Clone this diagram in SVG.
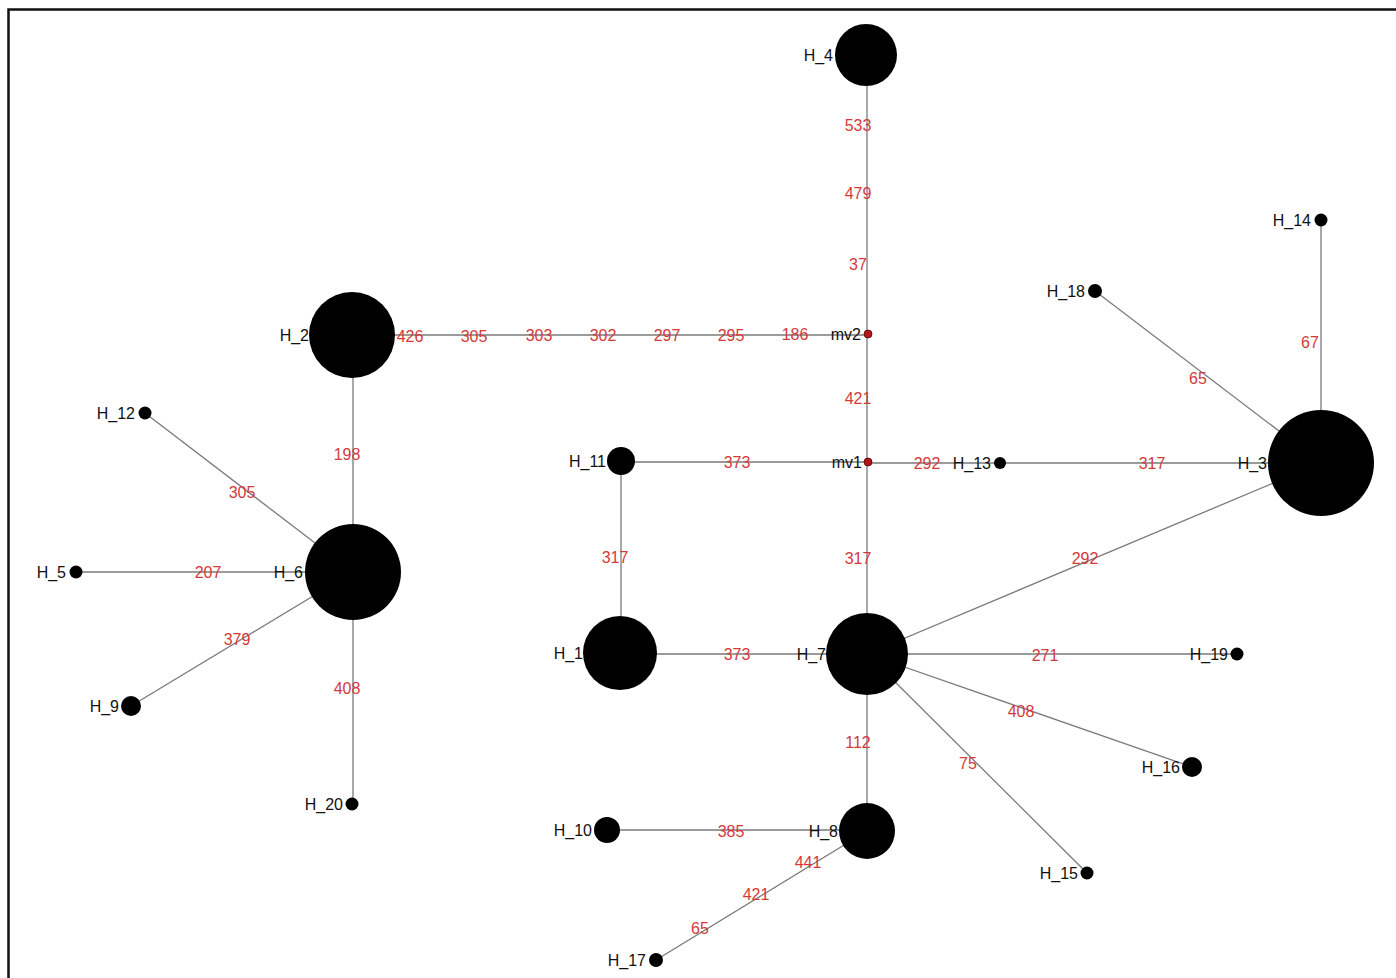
<svg xmlns="http://www.w3.org/2000/svg" width="1396" height="978" viewBox="0 0 1396 978">
<style>
.e{stroke:#7a7a7a;stroke-width:1.3;fill:none}
.n{fill:#000}
.mv{fill:#b0161a;stroke:#5a0000;stroke-width:0.8}
.l{font-family:"Liberation Sans",Arial,sans-serif;font-size:16px;fill:#111;text-anchor:end;dominant-baseline:central}
.w{font-family:"Liberation Sans",Arial,sans-serif;font-size:16px;fill:#d43a3a;text-anchor:middle;dominant-baseline:central}
</style>
<rect x="0" y="0" width="1396" height="978" fill="#fff"/>
<path d="M8.5,978 V9.5 H1396" fill="none" stroke="#111" stroke-width="2.5"/>
<g id="connectors">
<line class="e" x1="867" y1="55" x2="867" y2="334"/>
<line class="e" x1="352" y1="335" x2="867" y2="335"/>
<line class="e" x1="867" y1="334" x2="867" y2="462"/>
<line class="e" x1="621" y1="462" x2="867" y2="462"/>
<line class="e" x1="867" y1="463" x2="1000" y2="463"/>
<line class="e" x1="1000" y1="463" x2="1321" y2="463"/>
<line class="e" x1="867" y1="462" x2="867" y2="654"/>
<line class="e" x1="621" y1="461" x2="621" y2="653"/>
<line class="e" x1="620" y1="654" x2="867" y2="654"/>
<line class="e" x1="867" y1="654" x2="1321" y2="463"/>
<line class="e" x1="867" y1="654" x2="1237" y2="654"/>
<line class="e" x1="867" y1="654" x2="1192" y2="767"/>
<line class="e" x1="867" y1="654" x2="1087" y2="873"/>
<line class="e" x1="867" y1="654" x2="867" y2="831"/>
<line class="e" x1="867" y1="830" x2="607" y2="830"/>
<line class="e" x1="867" y1="831" x2="656" y2="960"/>
<line class="e" x1="1321" y1="463" x2="1321" y2="220"/>
<line class="e" x1="1321" y1="463" x2="1095" y2="291"/>
<line class="e" x1="353" y1="335" x2="353" y2="572"/>
<line class="e" x1="353" y1="572" x2="145" y2="413"/>
<line class="e" x1="353" y1="572" x2="76" y2="572"/>
<line class="e" x1="353" y1="572" x2="131" y2="706"/>
<line class="e" x1="353" y1="572" x2="353" y2="804"/>
<g id="edge-labels">
<text class="w" x="858" y="125">533</text>
<text class="w" x="858" y="193">479</text>
<text class="w" x="858" y="264">37</text>
<text class="w" x="410" y="336">426</text>
<text class="w" x="474" y="336">305</text>
<text class="w" x="539" y="335">303</text>
<text class="w" x="603" y="335">302</text>
<text class="w" x="667" y="335">297</text>
<text class="w" x="731" y="335">295</text>
<text class="w" x="795" y="334">186</text>
<text class="w" x="858" y="398">421</text>
<text class="w" x="737" y="462">373</text>
<text class="w" x="927" y="463">292</text>
<text class="w" x="1152" y="463">317</text>
<text class="w" x="858" y="558">317</text>
<text class="w" x="615" y="557">317</text>
<text class="w" x="737" y="654">373</text>
<text class="w" x="1085" y="558">292</text>
<text class="w" x="1045" y="655">271</text>
<text class="w" x="1021" y="711">408</text>
<text class="w" x="968" y="763">75</text>
<text class="w" x="858" y="742">112</text>
<text class="w" x="731" y="831">385</text>
<text class="w" x="808" y="862">441</text>
<text class="w" x="756" y="894">421</text>
<text class="w" x="700" y="928">65</text>
<text class="w" x="1310" y="342">67</text>
<text class="w" x="1198" y="378">65</text>
<text class="w" x="347" y="454">198</text>
<text class="w" x="242" y="492">305</text>
<text class="w" x="208" y="572">207</text>
<text class="w" x="237" y="639">379</text>
<text class="w" x="347" y="688">408</text>
</g>
</g>
<g id="H_4"><circle class="n" cx="866" cy="55" r="31"/><text class="l" x="833" y="55">H_4</text></g>
<g id="mv2"><circle class="mv" cx="868" cy="334" r="4"/><text class="l" x="861" y="334">mv2</text></g>
<g id="mv1"><circle class="mv" cx="868" cy="462" r="4"/><text class="l" x="862" y="462">mv1</text></g>
<g id="H_2"><circle class="n" cx="352" cy="335" r="43"/><text class="l" x="309" y="335">H_2</text></g>
<g id="H_6"><circle class="n" cx="353" cy="572" r="48"/><text class="l" x="303" y="572">H_6</text></g>
<g id="H_11"><circle class="n" cx="621" cy="461" r="14"/><text class="l" x="606" y="461">H_11</text></g>
<g id="H_1"><circle class="n" cx="620" cy="653" r="37"/><text class="l" x="583" y="653">H_1</text></g>
<g id="H_7"><circle class="n" cx="867" cy="654" r="41"/><text class="l" x="826" y="654">H_7</text></g>
<g id="H_13"><circle class="n" cx="1000" cy="463" r="6"/><text class="l" x="991" y="463">H_13</text></g>
<g id="H_3"><circle class="n" cx="1321" cy="463" r="53"/><text class="l" x="1267" y="463">H_3</text></g>
<g id="H_14"><circle class="n" cx="1321" cy="220" r="6.5"/><text class="l" x="1311" y="220">H_14</text></g>
<g id="H_18"><circle class="n" cx="1095" cy="291" r="7"/><text class="l" x="1085" y="291">H_18</text></g>
<g id="H_12"><circle class="n" cx="145" cy="413" r="6.5"/><text class="l" x="135" y="413">H_12</text></g>
<g id="H_5"><circle class="n" cx="76" cy="572" r="6.5"/><text class="l" x="66" y="572">H_5</text></g>
<g id="H_9"><circle class="n" cx="131" cy="706" r="10"/><text class="l" x="119" y="706">H_9</text></g>
<g id="H_20"><circle class="n" cx="352" cy="804" r="6.5"/><text class="l" x="343" y="804">H_20</text></g>
<g id="H_19"><circle class="n" cx="1237" cy="654" r="6.5"/><text class="l" x="1228" y="654">H_19</text></g>
<g id="H_16"><circle class="n" cx="1192" cy="767" r="10"/><text class="l" x="1180" y="767">H_16</text></g>
<g id="H_15"><circle class="n" cx="1087" cy="873" r="6.5"/><text class="l" x="1078" y="873">H_15</text></g>
<g id="H_8"><circle class="n" cx="867" cy="831" r="28"/><text class="l" x="838" y="831">H_8</text></g>
<g id="H_10"><circle class="n" cx="607" cy="830" r="13"/><text class="l" x="592" y="830">H_10</text></g>
<g id="H_17"><circle class="n" cx="656" cy="960" r="7"/><text class="l" x="646" y="960">H_17</text></g>
</svg>
